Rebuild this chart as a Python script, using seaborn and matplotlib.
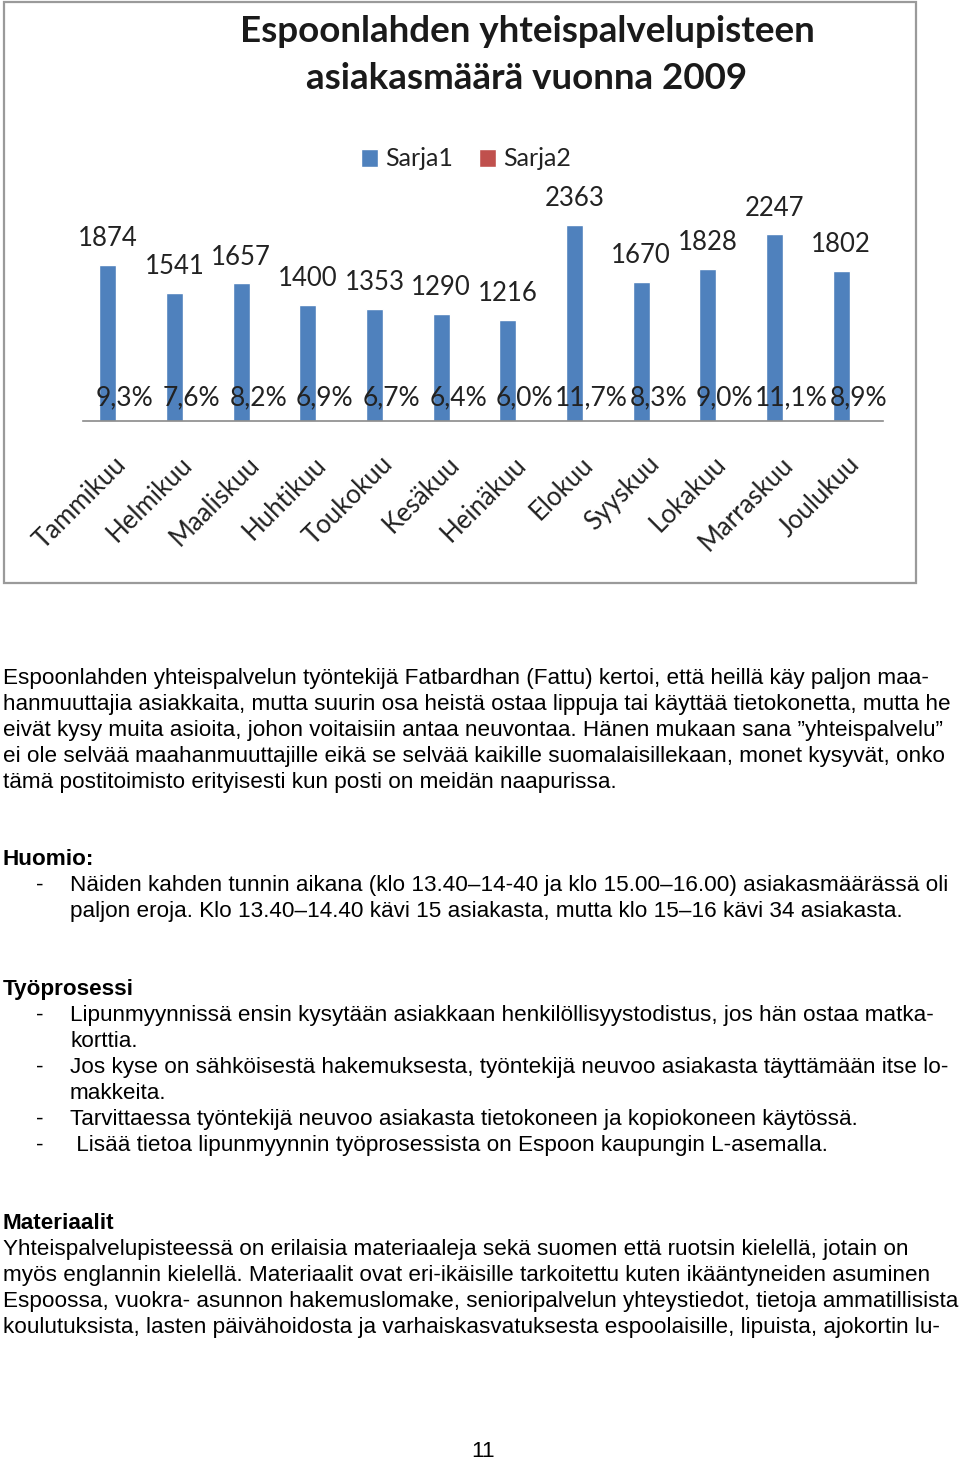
import matplotlib
matplotlib.use("Agg")
import matplotlib.pyplot as plt
import matplotlib.transforms as mtransforms
from matplotlib.patches import Rectangle
import seaborn as sns
import pandas as pd

# ---------------- data ----------------
months = ["Tammikuu", "Helmikuu", "Maaliskuu", "Huhtikuu", "Toukokuu", "Kesäkuu",
          "Heinäkuu", "Elokuu", "Syyskuu", "Lokakuu", "Marraskuu", "Joulukuu"]
sarja1 = [1874, 1541, 1657, 1400, 1353, 1290, 1216, 2363, 1670, 1828, 2247, 1802]
sarja2 = [0.093, 0.076, 0.082, 0.069, 0.067, 0.064, 0.060, 0.117, 0.083, 0.090, 0.111, 0.089]
series_names = ["Sarja1", "Sarja2"]
title_lines = ["Espoonlahden yhteispalvelupisteen", "asiakasmäärä vuonna 2009"]

para1 = [
    "Espoonlahden yhteispalvelun työntekijä Fatbardhan (Fattu) kertoi, että heillä käy paljon maa-",
    "hanmuuttajia asiakkaita, mutta suurin osa heistä ostaa lippuja tai käyttää tietokonetta, mutta he",
    "eivät kysy muita asioita, johon voitaisiin antaa neuvontaa. Hänen mukaan sana ”yhteispalvelu”",
    "ei ole selvää maahanmuuttajille eikä se selvää kaikille suomalaisillekaan, monet kysyvät, onko",
    "tämä postitoimisto erityisesti kun posti on meidän naapurissa.",
]
head2 = "Huomio:"
list2 = [
    ("-", "Näiden kahden tunnin aikana (klo 13.40–14-40 ja klo 15.00–16.00) asiakasmäärässä oli"),
    ("", "paljon eroja. Klo 13.40–14.40 kävi 15 asiakasta, mutta klo 15–16 kävi 34 asiakasta."),
]
head3 = "Työprosessi"
list3 = [
    ("-", "Lipunmyynnissä ensin kysytään asiakkaan henkilöllisyystodistus, jos hän ostaa matka-"),
    ("", "korttia."),
    ("-", "Jos kyse on sähköisestä hakemuksesta, työntekijä neuvoo asiakasta täyttämään itse lo-"),
    ("", "makkeita."),
    ("-", "Tarvittaessa työntekijä neuvoo asiakasta tietokoneen ja kopiokoneen käytössä."),
    ("-", " Lisää tietoa lipunmyynnin työprosessista on Espoon kaupungin L-asemalla."),
]
head4 = "Materiaalit"
para4 = [
    "Yhteispalvelupisteessä on erilaisia materiaaleja sekä suomen että ruotsin kielellä, jotain on",
    "myös englannin kielellä. Materiaalit ovat eri-ikäisille tarkoitettu kuten ikääntyneiden asuminen",
    "Espoossa, vuokra- asunnon hakemuslomake, senioripalvelun yhteystiedot, tietoja ammatillisista",
    "koulutuksista, lasten päivähoidosta ja varhaiskasvatuksesta espoolaisille, lipuista, ajokortin lu-",
]
page_number = "11"

df = pd.DataFrame({
    "month": months * 2,
    "series": [series_names[0]] * 12 + [series_names[1]] * 12,
    "value": sarja1 + sarja2,
})

# ---------------- style ----------------
sns.set_theme(style="white")
plt.rcParams["font.family"] = ["Lato", "DejaVu Sans"]

W, H = 960, 1460
fig = plt.figure(figsize=(W / 100, H / 100), dpi=100)
fig.patch.set_facecolor("white")

def fx(px):
    return px / W

def fy(py):
    return 1 - py / H

# chart frame
fig.add_artist(Rectangle((fx(4), fy(583)), fx(912), (583 - 2) / H, transform=fig.transFigure,
                         fill=False, edgecolor="#9a9a9a", linewidth=1.6))

ax_bottom, ax_top = 421, 421 - 207.6
ax = fig.add_axes([fx(83), fy(ax_bottom), fx(800), (ax_bottom - ax_top) / H])
blue, red = "#4F81BD", "#C0504D"
sns.barplot(data=df, x="month", y="value", hue="series", palette=[blue, red],
            width=0.51, saturation=1, errorbar=None, ax=ax, legend=True)
ax.set_ylim(0, 2500)
ax.set_xlim(-0.5, 11.5)
for s in ["left", "top", "right"]:
    ax.spines[s].set_visible(False)
ax.spines["bottom"].set_color("#8a8a8a")
ax.spines["bottom"].set_linewidth(1.2)
ax.set_yticks([])
ax.set_xlabel("")
ax.set_ylabel("")
ax.set_facecolor("none")

label_color = "#222222"
c1, c2 = ax.containers[0], ax.containers[1]
ax.bar_label(c1, labels=[str(v) for v in sarja1], padding=10, fontsize=18.5,
             color=label_color, clip_on=False)
pct_labels = [f"{v * 100:.1f}".replace(".", ",") + "%" for v in sarja2]
pct_texts = ax.bar_label(c2, labels=pct_labels, padding=8, fontsize=19, color=label_color,
                         clip_on=False)
pct_shift = mtransforms.ScaledTranslation(4 / 100, 0, fig.dpi_scale_trans)
for t in pct_texts:
    t.set_transform(t.get_transform() + pct_shift)

ax.tick_params(axis="x", length=0, pad=22, labelsize=18.5, labelcolor=label_color)
ax.set_xticks(range(len(months)))
ax.set_xticklabels(months, rotation=45, ha="right", va="top", rotation_mode="anchor")
offset = mtransforms.ScaledTranslation(-3 / 100, 0, fig.dpi_scale_trans)
for lab in ax.get_xticklabels():
    lab.set_transform(lab.get_transform() + offset)

# legend
handles, labels = ax.get_legend_handles_labels()
ax.legend_.remove()
fig.legend(handles, labels, loc="center", bbox_to_anchor=(fx(466), fy(159)), ncol=2,
           frameon=False, fontsize=18, handlelength=0.7, handleheight=0.7,
           handletextpad=0.3, columnspacing=1.0, labelcolor=label_color)

# title
fig.text(fx(527), fy(42), title_lines[0], ha="center", va="baseline", fontsize=26.5,
         fontweight="bold", color="#1a1a1a")
fig.text(fx(527), fy(89), title_lines[1], ha="center", va="baseline", fontsize=26.5,
         fontweight="bold", color="#1a1a1a")

# ---------------- body text ----------------
body_font = ["Liberation Sans", "DejaVu Sans"]
bs = 16.2
lh = 26

def put(x, y, s, bold=False):
    fig.text(fx(x), fy(y), s, ha="left", va="baseline", fontsize=bs,
             family=body_font, fontweight="bold" if bold else "normal", color="black")

y = 684
for line in para1:
    put(3, y, line)
    y += lh

y = 865
put(3, y, head2, bold=True)
y += lh
for dash, line in list2:
    if dash:
        put(36, y, dash)
    put(70, y, line)
    y += lh

y = 995
put(3, y, head3, bold=True)
y += lh
for dash, line in list3:
    if dash:
        put(36, y, dash)
    put(70, y, line)
    y += lh

y = 1229
put(3, y, head4, bold=True)
y += lh
for line in para4:
    put(3, y, line)
    y += lh

fig.text(fx(483), fy(1457), page_number, ha="center", va="baseline", fontsize=bs,
         family=body_font, color="black")

fig.savefig("out.png", dpi=100, facecolor="white")
